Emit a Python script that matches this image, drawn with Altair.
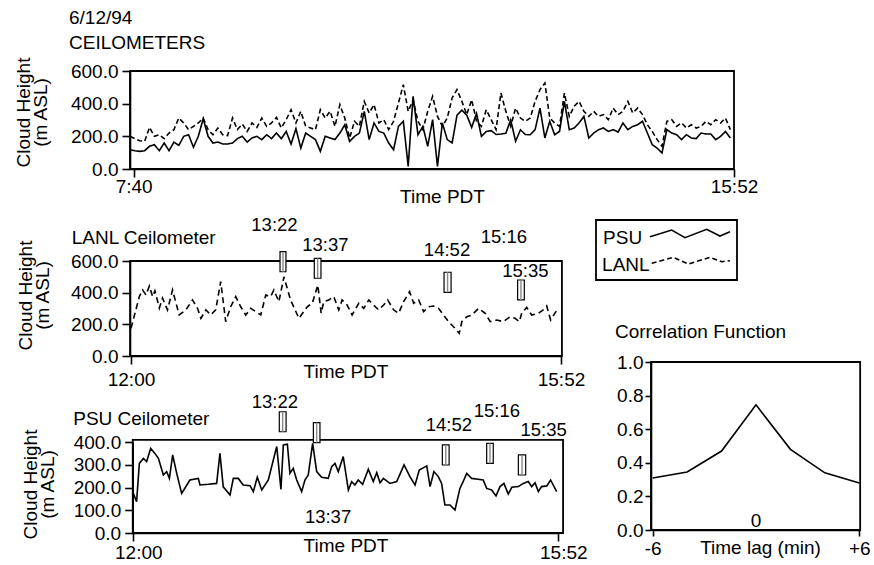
import altair as alt
import pandas as pd

FONT = "Liberation Sans"
BLACK = "black"

# ---------------- data ----------------
# top panel: minutes after midnight PDT, 4-minute samples
top_time = list(range(457, 953, 4))
top_psu = [118, 112, 108, 112, 139, 149, 112, 159, 112, 165, 145, 200, 210, 133, 200, 308, 200, 159, 165, 153,
           153, 159, 186, 200, 165, 190, 200, 180, 210, 186, 220, 186, 230, 153, 247, 128, 220, 200, 180, 108,
           200, 190, 180, 220, 271, 169, 200, 220, 353, 180, 282, 230, 220, 159, 118, 261, 292, 16, 445, 210,
           261, 139, 302, 16, 282, 180, 160, 330, 360, 330, 255, 340, 200, 230, 235, 211, 214, 218, 300, 170,
           240, 211, 210, 241, 373, 190, 292, 210, 230, 414, 241, 251, 282, 322, 190, 220, 241, 251, 230, 241,
           226, 282, 241, 261, 271, 292, 220, 149, 128, 98, 241, 220, 210, 180, 210, 190, 186, 220, 214, 214,
           180, 200, 230, 190]
top_lanl = [200, 186, 173, 169, 255, 200, 210, 186, 220, 241, 312, 282, 241, 261, 282, 312, 241, 210, 251, 210,
            204, 312, 241, 275, 230, 282, 255, 312, 261, 282, 316, 251, 302, 363, 282, 353, 261, 251, 241, 363,
            312, 353, 261, 394, 312, 190, 292, 261, 414, 343, 394, 282, 302, 241, 292, 404, 516, 353, 424, 292,
            241, 353, 445, 322, 261, 312, 435, 486, 414, 333, 424, 292, 261, 363, 302, 241, 465, 353, 261, 373,
            312, 292, 312, 414, 486, 526, 312, 282, 261, 465, 322, 384, 414, 353, 322, 353, 322, 333, 302, 373,
            333, 353, 414, 343, 373, 333, 271, 230, 180, 139, 292, 302, 261, 282, 251, 271, 251, 261, 292, 271,
            302, 282, 312, 241]

# detail panels: minutes after 12:00 PDT
lanl_t = [0, 4.5, 6.3, 8.1, 9.9, 11.7, 12.9, 15.3, 17.0, 19.7, 22.4, 26.0, 29.6, 33.2, 35.9, 37.7, 40.4, 43.0,
          45.7, 48.4, 51.1, 53.8, 56.5, 59.2, 61.9, 64.6, 70.0, 72.7, 75.3, 77.1, 79.8, 82.5, 86.1, 90.6, 95.1,
          97.8, 100.8, 102.6, 104.0, 106.7, 109.4, 112.1, 113.9, 116.6, 119.3, 122.9, 125.6, 128.3, 130.9, 133.6,
          136.3, 138.5, 141.7, 144.4, 147.1, 150.3, 152.5, 155.2, 157.9, 160.5, 163.2, 165.9, 168.6, 171.3, 174.0,
          177.1, 178.5, 181.2, 183.9, 187.5, 191.1, 193.8, 197.4, 200.9, 204.5, 207.2, 209.5, 210.8, 213.5, 216.2,
          219.8, 222.4, 224.3, 226.4, 228.7, 230.5]
lanl_h = [175, 375, 417, 385, 442, 375, 412, 303, 366, 291, 417, 259, 291, 354, 301, 238, 291, 259, 291, 470,
          217, 311, 375, 311, 259, 301, 259, 385, 375, 417, 343, 500, 354, 238, 311, 333, 448, 270, 343, 354,
          375, 291, 354, 322, 259, 333, 301, 354, 322, 291, 322, 354, 291, 270, 343, 406, 333, 354, 280, 311,
          316, 301, 259, 217, 185, 143, 217, 248, 259, 301, 270, 217, 227, 217, 248, 238, 217, 270, 307, 259,
          270, 291, 316, 227, 270, 301]

psu_t = [0, 1.8, 3.3, 5.5, 7.3, 9.5, 11.8, 13.7, 16.4, 18.2, 19.7, 21.5, 23.7, 26.4, 30.9, 35.5, 36.4, 40.9,
         45.5, 47.3, 49.1, 52.8, 54.6, 57.3, 60.0, 63.7, 65.5, 67.7, 70.1, 73.7, 78.3, 80.6, 81.9, 84.1, 85.5,
         87.3, 89.2, 91.9, 93.7, 95.5, 97.9, 100.1, 102.8, 106.4, 108.3, 110.1, 111.9, 114.6, 117.4, 119.2, 121.0,
         122.8, 125.2, 128.3, 131.0, 132.9, 134.7, 136.5, 140.1, 143.8, 147.8, 151.0, 153.8, 156.1, 160.2, 162.0,
         164.1, 166.5, 168.3, 170.1, 172.9, 175.6, 178.3, 179.8, 182.0, 184.7, 188.3, 191.0, 192.9, 195.6, 198.0,
         200.2, 202.3, 204.7, 206.6, 210.2, 212.9, 215.6, 217.5, 219.3, 221.1, 222.9, 225.7, 227.8, 231.1]
psu_h = [174, 138, 306, 328, 314, 372, 350, 328, 255, 270, 240, 343, 262, 174, 233, 240, 211, 214, 218, 350,
         203, 167, 240, 240, 211, 208, 182, 245, 189, 233, 380, 192, 387, 390, 262, 284, 233, 182, 233, 255,
         394, 270, 245, 240, 292, 306, 270, 336, 189, 226, 211, 233, 214, 280, 226, 265, 221, 240, 218, 226,
         299, 248, 211, 277, 295, 204, 270, 248, 218, 123, 123, 101, 196, 221, 262, 240, 236, 233, 196, 189,
         163, 204, 218, 171, 201, 204, 218, 226, 204, 221, 182, 204, 207, 233, 182]

# event markers (time span, height span) and their labels
lanl_box_t0 = [80.4, 98.9, 168.9, 208.6]
lanl_box_t1 = [83.6, 102.5, 172.7, 212.2]
lanl_box_h0 = [532, 491, 402, 354]
lanl_box_h1 = [659, 617, 529, 480]
lanl_lab = ["13:22", "13:37", "14:52", "15:16", "15:35"]
lanl_lab_t = [77.4, 104.9, 170.5, 201.2, 212.8]
lanl_lab_h = [827, 701, 669, 752, 537]

psu_box_t0 = [79.7, 98.3, 168.7, 192.9, 210.2]
psu_box_t1 = [83.4, 101.9, 172.4, 196.5, 214.2]
psu_box_h0 = [445, 397, 299, 306, 255]
psu_box_h1 = [533, 485, 387, 394, 343]
psu_lab = ["13:22", "13:37", "14:52", "15:16", "15:35"]
psu_lab_t = [77.3, 106.3, 172.3, 198.5, 224.0]
psu_lab_h = [576, 70, 475, 536, 453]

# correlation function
lag = [-6, -4, -2, 0, 2, 4, 6]
corr = [0.31, 0.345, 0.47, 0.745, 0.48, 0.34, 0.28]

# legend sample shapes (legend-local 0..100 units)
leg_psu_x = [38.3, 53.7, 63.1, 78.5, 87.9, 95.0]
leg_psu_y = [72.2, 83.3, 70.5, 84.5, 73.3, 80.5]
leg_lanl_x = [39.5, 54.8, 65.5, 80.9, 89.1, 95.0]
leg_lanl_y = [27.8, 37.8, 26.7, 37.8, 30.5, 32.2]
leg_names = ["PSU", "LANL"]
leg_name_x = [5.0, 4.3]
leg_name_y = [69.5, 25.0]

# panel captions (anchored in each panel's data units)
lanl_title = ("LANL Ceilometer", -32.0, 743)
psu_title = ("PSU Ceilometer", -32.8, 501)
corr_title = ("Correlation Function", -8.19, 1.179)
corr_zero = ("0", 0.0, 0.054)

# ---------------- layout ----------------
W, H, T = 874, 505, 60
LW = 1.6


def sc(domain, rng):
    return alt.Scale(domain=domain, range=rng, nice=False, zero=False)


def time_expr(base):
    v = f"(datum.value + {base})"
    return f"floor({v}/60) + ':' + ({v} % 60 < 10 ? '0' : '') + ({v} % 60)"


def X(field, scale, axis=None):
    return alt.X(f"{field}:Q", scale=scale, axis=axis)


def Y(field, scale, axis=None):
    return alt.Y(f"{field}:Q", scale=scale, axis=axis)


def frame(x0, x1, y0, y1, xs, ys):
    df = pd.DataFrame({"x0": [x0], "x1": [x1], "y0": [y0], "y1": [y1]})
    return alt.Chart(df).mark_rect(fill="transparent", stroke=BLACK, strokeWidth=1.8).encode(
        x=X("x0", xs), x2="x1", y=Y("y0", ys), y2="y1")


def yaxis(offset, values, tx, ty, title=["Cloud Height", "(m ASL)"], fmt=".1f", tick=8, pad=4):
    kw = dict(orient="left", offset=offset, values=values, format=fmt, tickSize=tick, labelPadding=pad)
    if title is None:
        kw["title"] = None
    else:
        kw.update(title=title, titleAngle=270, titleX=tx, titleY=ty, titleAlign="center",
                  titleBaseline="middle", titleLineHeight=17)
    return alt.Axis(**kw)


def xaxis(axis_y, values, labels, title, tx, ty, tick=8, pad=0, shift=0):
    return alt.Axis(orient="bottom", offset=(axis_y - T) - H, values=values, labelExpr=labels,
                    tickSize=tick, labelPadding=pad, labelOffset=shift, title=title, titleX=tx, titleY=ty,
                    titleAlign="center", titleBaseline="middle")


def caption(item, xs, ys, size=19, align="left"):
    df = pd.DataFrame({"x": [item[1]], "y": [item[2]], "txt": [item[0]]})
    return alt.Chart(df).mark_text(font=FONT, fontSize=size, color=BLACK, align=align,
                                   baseline="middle").encode(x=X("x", xs), y=Y("y", ys), text="txt:N")


def markers(t0, t1, h0, h1, xs, ys):
    df = pd.DataFrame({"t0": t0, "t1": t1, "h0": h0, "h1": h1})
    df["mid"] = (df["t0"] + df["t1"]) / 2
    box = alt.Chart(df).mark_rect(fill="white", stroke=BLACK, strokeWidth=1.2).encode(
        x=X("t0", xs), x2="t1", y=Y("h0", ys), y2="h1")
    inner = alt.Chart(df).mark_rule(color="#888", strokeWidth=1.4).encode(
        x=X("mid", xs), y=Y("h0", ys), y2="h1")
    return [box, inner]


def labels(txt, t, h, xs, ys):
    df = pd.DataFrame({"t": t, "h": h, "txt": txt})
    return alt.Chart(df).mark_text(font=FONT, fontSize=18.5, color=BLACK, baseline="middle").encode(
        x=X("t", xs), y=Y("h", ys), text="txt:N")


def axes_only(xs, ys, xa, ya):
    # an invisible carrier layer for one panel's two axes
    df = pd.DataFrame({"x": [xs.domain[0]], "y": [ys.domain[0]]})
    return alt.Chart(df).mark_point(opacity=0, size=1).encode(x=X("x", xs, xa), y=Y("y", ys, ya))


layers = []

# ---- top panel
tx = sc([457, 952], [130, 734])
ty = sc([0, 600], [169 - T, 71 - T])
top_df = pd.DataFrame({"t": top_time, "psu": top_psu, "lanl": top_lanl})
layers += [
    axes_only(tx, ty, xaxis(169, [460, 952], time_expr(0), "Time PDT", 442, 27.5, pad=0),
              yaxis(-130, [0, 200, 400, 600], -107, 112 - T)),
    alt.Chart(top_df).mark_line(color=BLACK, strokeWidth=LW).encode(x=X("t", tx), y=Y("psu", ty)),
    alt.Chart(top_df).mark_line(color=BLACK, strokeWidth=LW, strokeDash=[5, 3]).encode(
        x=X("t", tx), y=Y("lanl", ty)),
    frame(457, 952, 0, 600, tx, ty),
]

# ---- LANL panel
lx = sc([0, 232], [131, 561])
ly = sc([0, 600], [356 - T, 261 - T])
lanl_df = pd.DataFrame({"t": lanl_t, "h": lanl_h})
layers += [
    axes_only(lx, ly, xaxis(356, [0, 232], time_expr(720), "Time PDT", 345.5, 15.5, pad=6),
              yaxis(-130, [0, 200, 400, 600], -105, 295 - T)),
    alt.Chart(lanl_df).mark_line(color=BLACK, strokeWidth=LW, strokeDash=[6, 4]).encode(
        x=X("t", lx), y=Y("h", ly)),
    frame(-0.5, 232.5, 0, 600, lx, ly),
    *markers(lanl_box_t0, lanl_box_t1, lanl_box_h0, lanl_box_h1, lx, ly),
    labels(lanl_lab, lanl_lab_t, lanl_lab_h, lx, ly),
    caption(lanl_title, lx, ly),
]

# ---- PSU panel
px = sc([0, 232], [133.3, 558.3])
py = sc([0, 400], [533 - T, 442 - T])
psu_df = pd.DataFrame({"t": psu_t, "h": psu_h})
layers += [
    axes_only(px, py, xaxis(533, [0, 232], time_expr(720), "Time PDT", 345.5, 12, pad=2, shift=5),
              yaxis(-132.7, [0, 100, 200, 300, 400], -102.6, 484 - T)),
    alt.Chart(psu_df).mark_line(color=BLACK, strokeWidth=LW).encode(x=X("t", px), y=Y("h", py)),
    frame(-0.3, 234.6, 0, 409, px, py),
    *markers(psu_box_t0, psu_box_t1, psu_box_h0, psu_box_h1, px, py),
    labels(psu_lab, psu_lab_t, psu_lab_h, px, py),
    caption(psu_title, px, py),
]

# ---- correlation panel
cx = sc([-6, 6], [652.7, 859.3])
cy = sc([0, 1], [530 - T, 362 - T])
corr_df = pd.DataFrame({"lag": lag, "r": corr})
layers += [
    axes_only(cx, cy, xaxis(530, [-6, 6], "datum.value > 0 ? '+' + datum.value : '' + datum.value",
                            "Time lag (min)", 760, 17, tick=6, pad=3),
              yaxis(-651, [0, 0.2, 0.4, 0.6, 0.8, 1.0], 0, 0, title=None, tick=6, pad=2)),
    alt.Chart(corr_df).mark_line(color=BLACK, strokeWidth=LW).encode(x=X("lag", cx), y=Y("r", cy)),
    frame(-6.1, 6.05, 0, 1.0, cx, cy),
    caption(corr_title, cx, cy),
    caption(corr_zero, cx, cy, align="center"),
]

# ---- legend box
gx = sc([0, 100], [596, 737])
gy = sc([0, 100], [280 - T, 220 - T])
leg_psu = pd.DataFrame({"x": leg_psu_x, "y": leg_psu_y})
leg_lanl = pd.DataFrame({"x": leg_lanl_x, "y": leg_lanl_y})
leg_txt = pd.DataFrame({"x": leg_name_x, "y": leg_name_y, "txt": leg_names})
layers += [
    frame(0, 100, 0, 100, gx, gy),
    alt.Chart(leg_psu).mark_line(color=BLACK, strokeWidth=LW).encode(x=X("x", gx), y=Y("y", gy)),
    alt.Chart(leg_lanl).mark_line(color=BLACK, strokeWidth=LW, strokeDash=[5, 3]).encode(
        x=X("x", gx), y=Y("y", gy)),
    alt.Chart(leg_txt).mark_text(font=FONT, fontSize=19, color=BLACK, align="left", baseline="middle").encode(
        x=X("x", gx), y=Y("y", gy), text="txt:N"),
]

chart = alt.layer(*layers).resolve_scale(
    x="independent", y="independent"
).resolve_axis(
    x="independent", y="independent"
).properties(
    width=W, height=H,
    padding={"left": 0, "top": T, "right": 0, "bottom": 0},
    autosize=alt.AutoSizeParams(type="none"),
    title=alt.Title(text=["6/12/94", "CEILOMETERS"], anchor="start", frame="group", dx=69, offset=4,
                    font=FONT, fontSize=19, fontWeight="normal", color=BLACK, lineHeight=25),
).configure_view(stroke=None).configure_axis(
    grid=False, labelFont=FONT, titleFont=FONT, labelFontSize=19, titleFontSize=19,
    titleFontWeight="normal", labelColor=BLACK, titleColor=BLACK, domainColor=BLACK,
    tickColor=BLACK, domainWidth=1.6, tickWidth=1.6, labelFlush=False, labelOverlap=False,
)

chart.save("out.html", embed_options={"renderer": "svg", "actions": False})
